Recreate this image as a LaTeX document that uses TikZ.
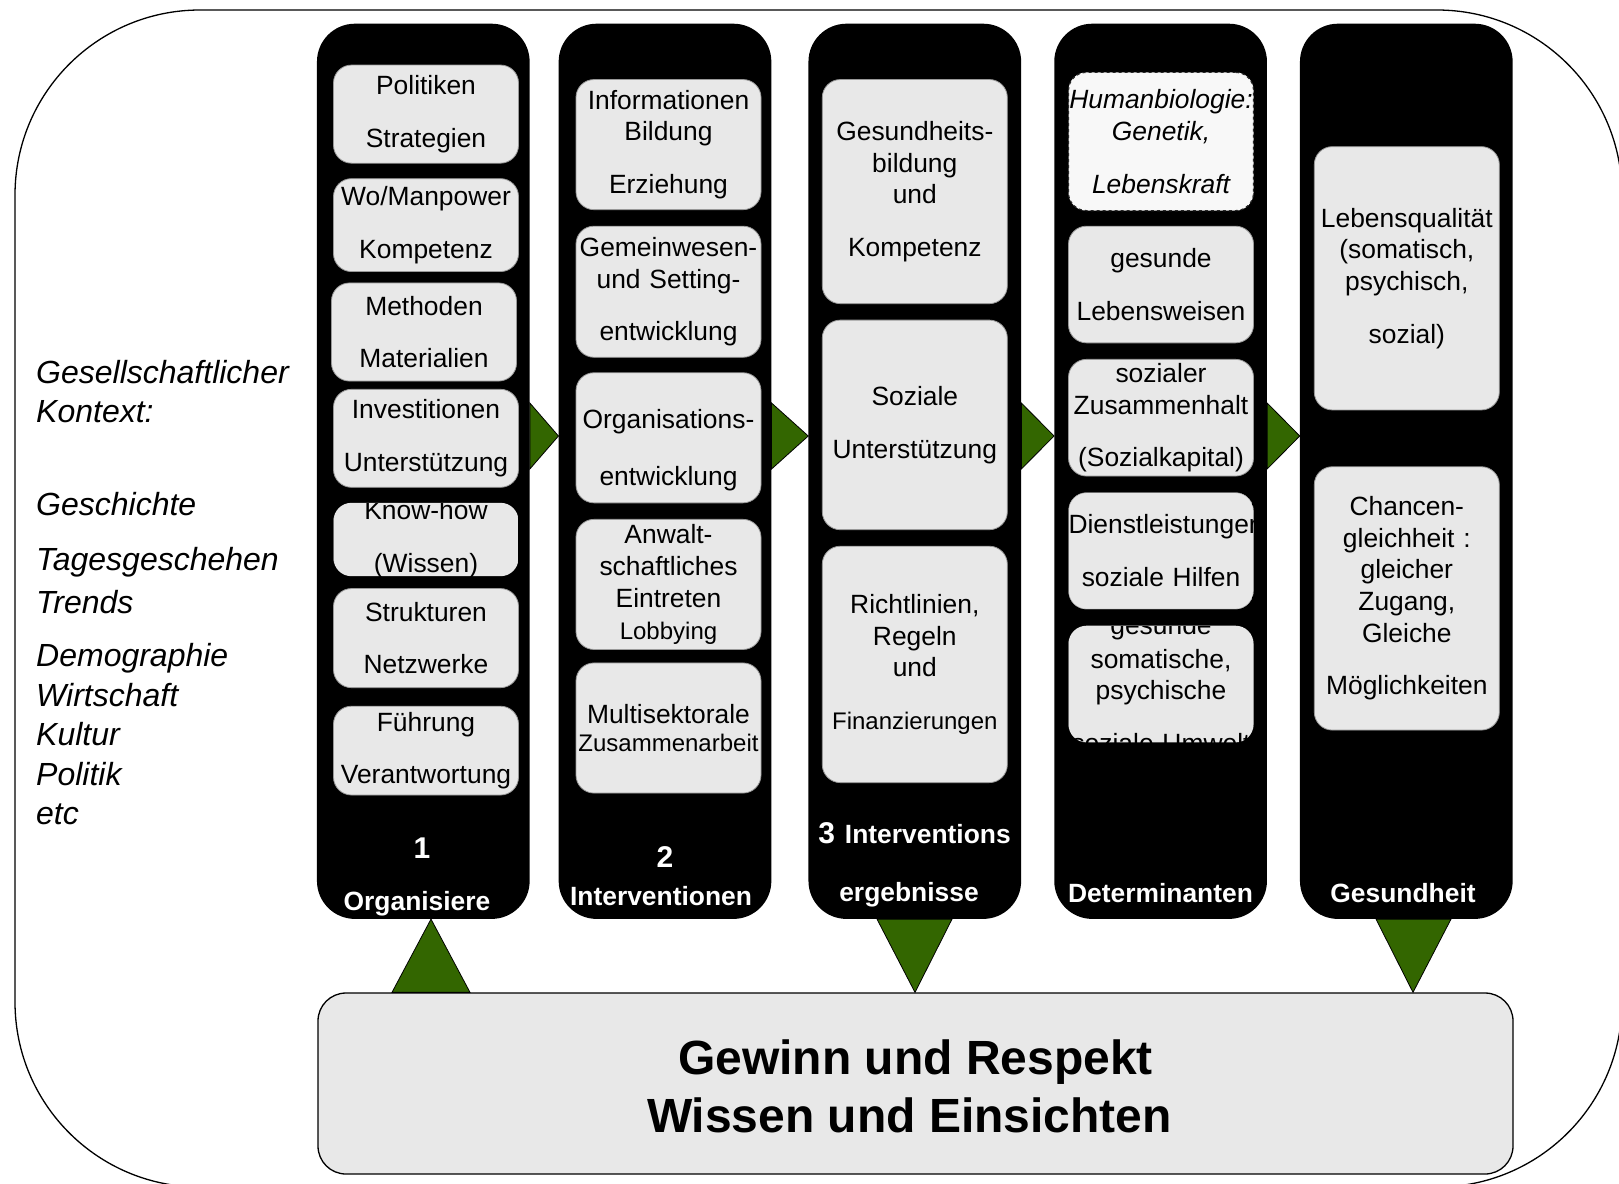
\documentclass[tikz,border=0pt]{standalone}
\usepackage{fontspec}
\setmainfont{Liberation Sans}
\definecolor{boxgray}{RGB}{232,232,232}
\definecolor{dashgray}{RGB}{248,248,248}
\definecolor{arrowgreen}{RGB}{51,102,0}
\hyphenpenalty=10000
\exhyphenpenalty=10000
\newcommand{\smallline}{\fontsize{24}{29}\selectfont}
\newcommand{\bignum}{\fontsize{30}{36}\selectfont}

\begin{document}
\begin{tikzpicture}[x=1pt,y=-1pt,
	column/.style={fill=black,rounded corners=38pt,minimum width=212.7pt,minimum height=895.2pt,inner sep=0pt},
	inbox/.style={fill=boxgray,draw=black!40,line width=0.8pt,rounded corners=18pt,text width=185pt,align=center,inner sep=0pt,font=\fontsize{26.4}{31.7}\selectfont},
	humanbox/.style={inbox,fill=dashgray,draw=black!85,line width=1.2pt,dashed,font=\fontsize{26.4}{31.7}\selectfont\itshape},
	colhead/.style={text=white,anchor=base,inner sep=0pt,font=\bfseries\fontsize{26.4}{31.7}\selectfont},
	tri/.style={fill=arrowgreen,draw=black,line width=0.8pt},
	gainbox/.style={fill=boxgray,draw=black,line width=1.3pt,rounded corners=28pt,minimum width=1195pt,minimum height=181pt,align=center,inner sep=0pt,font=\bfseries\fontsize{48}{57.6}\selectfont},
	context/.style={anchor=north west,align=left,inner sep=0pt,font=\fontsize{32}{39.5}\selectfont\itshape}]

	\useasboundingbox (0,0) rectangle (1619,1183);
	\begin{scope}
		\clip (0,0) rectangle (1619,1183);
		\draw[line width=1.3pt,rounded corners=185pt] (15,10) rectangle (1622,1187);
	\end{scope}

	\node[context] (ctx) at (36,360) {Gesellschaftlicher\\Kontext:\\[53pt]Geschichte\\[16pt]Tagesgeschehen\\[3pt]Trends\\[14pt]Demographie\\Wirtschaft\\Kultur\\Politik\\etc};

	\node[column] (org) at (423.3,471.3) {};
	\node[column] (itv) at (665.0,471.3) {};
	\node[column] (res) at (914.8,471.3) {};
	\node[column] (det) at (1160.6,471.3) {};
	\node[column] (hlth) at (1406.3,471.3) {};

	\node[inbox,minimum height=98.1pt] (o1) at (426,114.1) {Politiken\\[21pt]Strategien};
	\node[inbox,minimum height=92.9pt] (o2) at (426,225.1) {Wo/Manpower\\[21pt]Kompetenz};
	\node[inbox,minimum height=98.1pt] (o3) at (424,332.0) {Methoden\\[21pt]Materialien};
	\node[inbox,minimum height=98.0pt] (o4) at (426,438.3) {Investitionen\\[21pt]Unterstützung};
	\begin{scope}
		\clip[rounded corners=18pt] (333.5,502.8) rectangle (518.5,576.2);
		\node[inbox,minimum height=73.3pt] (o5) at (426,539.5) {Know-how\\[21pt](Wissen)};
	\end{scope}
	\node[inbox,minimum height=99.1pt] (o6) at (426,638.1) {Strukturen\\[21pt]Netzwerke};
	\node[inbox,minimum height=88.8pt] (o7) at (426,750.6) {Führung\\[21pt]Verantwortung};

	\node[inbox,minimum height=130.1pt] (i1) at (668.5,144.6) {Informationen\\Bildung\\[21pt]Erziehung};
	\node[inbox,minimum height=131.1pt] (i2) at (668.5,291.7) {Gemeinwesen-\\und Setting-\\[21pt]entwicklung};
	\node[inbox,minimum height=130.1pt] (i3) at (668.5,437.8) {\rule{0pt}{44pt}Organisations-\\[26pt]entwicklung};
	\node[inbox,minimum height=130.1pt] (i4) at (668.5,584.4) {Anwalt-\\schaftliches\\Eintreten\\{\smallline Lobbying}};
	\node[inbox,minimum height=130.1pt] (i5) at (668.5,728.0) {Multisektorale\\[-3pt]{\smallline Zusammenarbeit}};

	\node[inbox,minimum height=224.1pt] (r1) at (914.8,191.6) {Gesundheits-\\bildung\\und\\[21pt]Kompetenz};
	\node[inbox,minimum height=209.6pt] (r2) at (914.8,424.9) {Soziale\\[21pt]Unterstützung};
	\node[inbox,minimum height=236.4pt] (r3) at (914.8,664.4) {Richtlinien,\\Regeln\\und\\[21pt]{\smallline Finanzierungen}};

	\node[humanbox,minimum height=138.3pt] (d1) at (1161,141.5) {Humanbiologie:\\Genetik,\\[21pt]Lebenskraft};
	\node[inbox,minimum height=116.7pt] (d2) at (1161,284.5) {gesunde\\[21pt]Lebensweisen};
	\node[inbox,minimum height=116.7pt] (d3) at (1161,417.7) {sozialer\\Zusammenhalt\\[21pt](Sozialkapital)};
	\begin{scope}
		\clip[rounded corners=18pt] (1068.5,492.5) rectangle (1253.5,609.2);
		\node[inbox,minimum height=116.7pt] (d4) at (1161,550.9) {Dienstleistungen\\[21pt]soziale Hilfen};
	\end{scope}
	\begin{scope}
		\clip[rounded corners=18pt] (1068.5,625.7) rectangle (1253.5,742.4);
		\node[inbox,minimum height=116.7pt] (d5) at (1161,684.1) {gesunde\\[2pt]somatische,\\psychische\\[21pt]soziale Umwelt};
	\end{scope}

	\node[inbox,minimum height=263.3pt] (h1) at (1406.8,278.3) {Lebensqualität\\(somatisch,\\psychisch,\\[21pt]sozial)};
	\node[inbox,minimum height=263.3pt] (h2) at (1406.8,598.4) {Chancen-\\gleichheit :\\gleicher\\Zugang,\\Gleiche\\[21pt]Möglichkeiten};

	\node[colhead] (n1) at (422,858) {\bignum 1};
	\node[colhead] (t1) at (417,910) {Organisiere};
	\node[colhead] (n2) at (665,867) {\bignum 2};
	\node[colhead] (t2) at (661,905) {Interventionen};
	\node[colhead] (t3) at (914.5,843) {{\bignum 3}\hspace{10pt}Interventions};
	\node[colhead] (t3b) at (909,901) {ergebnisse};
	\node[colhead] (t4) at (1160.5,902) {Determinanten};
	\node[colhead] (t5) at (1403,902) {Gesundheit};

	\filldraw[tri] (org.east |- 0,403) -- (org.east |- 0,469) -- (itv.west |- 0,436) -- cycle;
	\filldraw[tri] (itv.east |- 0,403) -- (itv.east |- 0,469) -- (res.west |- 0,436) -- cycle;
	\filldraw[tri] (res.east |- 0,403) -- (res.east |- 0,469) -- (det.west |- 0,436) -- cycle;
	\filldraw[tri] (det.east |- 0,403) -- (det.east |- 0,469) -- (hlth.west |- 0,436) -- cycle;

	\node[gainbox] (gain) at (915.5,1083.5) {\rule{0pt}{41pt}Gewinn und Respekt\\Wissen und Einsichten\hspace*{12pt}};

	\filldraw[tri] (gain.north -| 392,0) -- (gain.north -| 470,0) -- (org.south -| 431,0) -- cycle;
	\filldraw[tri] (res.south -| 877,0) -- (res.south -| 952,0) -- (gain.north -| 915,0) -- cycle;
	\filldraw[tri] (hlth.south -| 1376,0) -- (hlth.south -| 1451,0) -- (gain.north -| 1413,0) -- cycle;

\end{tikzpicture}
\end{document}
